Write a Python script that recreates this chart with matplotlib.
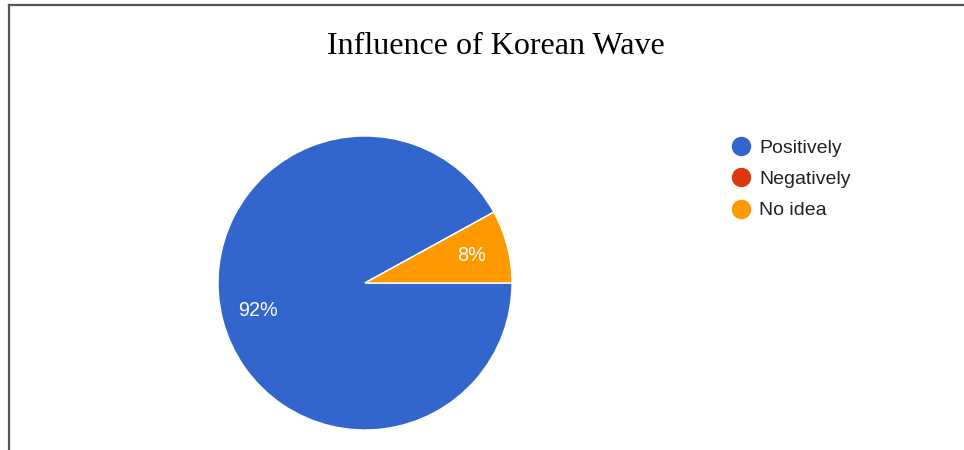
import matplotlib
matplotlib.use('Agg')
import matplotlib.pyplot as plt
from matplotlib.lines import Line2D

W, H = 964, 450

labels = ['Positively', 'Negatively', 'No idea']
values = [92, 0, 8]
colors = ['#3366CC', '#DC3912', '#FF9900']
title = 'Influence of Korean Wave'

fig = plt.figure(figsize=(W / 100, H / 100), dpi=100)

# frame lines (top and left only)
fig.add_artist(Line2D([9 / W, 1], [1 - 5 / H, 1 - 5 / H], color='#555555', lw=1.6))
fig.add_artist(Line2D([9 / W, 9 / W], [1 - 5 / H, 0], color='#555555', lw=1.6))

fig.text(496 / W, 1 - 47 / H, title, ha='center', va='center',
         family='Liberation Serif', fontsize=23, color='black')

# pie centred at (365, 283) px with radius 147 px
cx, cy, r = 365, 283, 147
ax = fig.add_axes([(cx - r) / W, (H - cy - r) / H, 2 * r / W, 2 * r / H])


def pct(p):
    return '%d%%' % round(p) if p > 0.5 else ''


wedges, texts, autotexts = ax.pie(values, colors=colors, startangle=0, counterclock=False,
                                  autopct=pct, pctdistance=0.75,
                                  wedgeprops=dict(edgecolor='white', linewidth=1),
                                  textprops=dict(color='white', family='Liberation Sans', fontsize=14.3))
ax.set_xlim(-1, 1)
ax.set_ylim(-1, 1)
ax.set_aspect('equal')

handles = [Line2D([], [], marker='o', linestyle='none', markersize=13,
                  markerfacecolor=c, markeredgecolor=c) for c in colors]
fig.legend(handles, labels, loc='upper left', bbox_to_anchor=(731 / W, 1 - 139 / H),
           frameon=False, borderpad=0, borderaxespad=0, handlelength=1.0,
           handletextpad=0.45, labelspacing=0.71,
           prop=dict(family='Liberation Sans', size=14), labelcolor='#222222')

fig.savefig('out.png', dpi=100)
